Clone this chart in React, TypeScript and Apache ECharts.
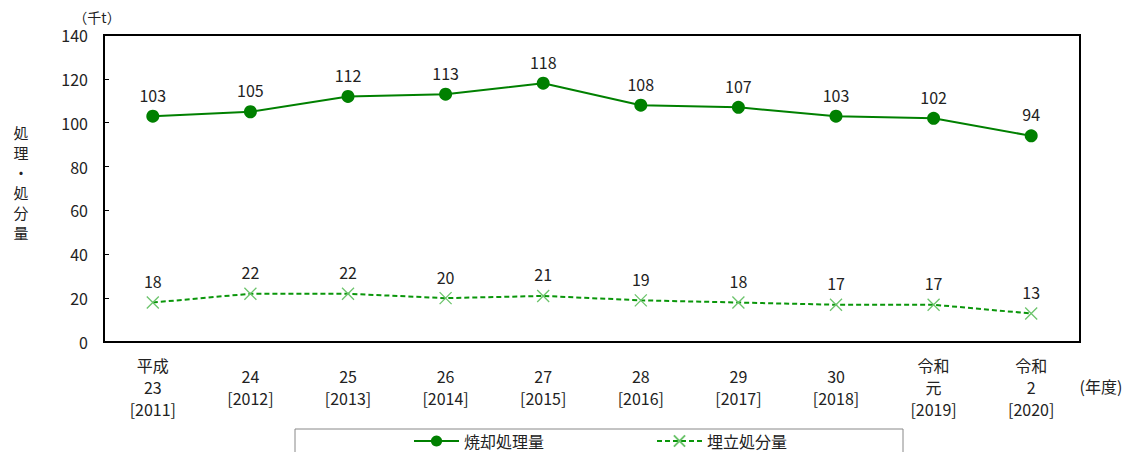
import React, { useEffect, useRef } from "react";
import * as echarts from "echarts";

const categories = [
  "平成\n23\n[2011]",
  "24\n[2012]",
  "25\n[2013]",
  "26\n[2014]",
  "27\n[2015]",
  "28\n[2016]",
  "29\n[2017]",
  "30\n[2018]",
  "令和\n元\n[2019]",
  "令和\n2\n[2020]",
];
const incineration = [103, 105, 112, 113, 118, 108, 107, 103, 102, 94];
const landfill = [18, 22, 22, 20, 21, 19, 18, 17, 17, 13];
const seriesNames = ["焼却処理量", "埋立処分量"];
const yTicks = { min: 0, max: 140, interval: 20 };

const FONT = "'Noto Sans CJK JP', 'Noto Sans', sans-serif";
const TEXT = "#222";

export default function App() {
  const ref = useRef<HTMLDivElement>(null);
  useEffect(() => {
    if (!ref.current) return;
    const chart = echarts.init(ref.current, undefined, { renderer: "svg" });
    chart.setOption({
      animation: false,
      textStyle: { fontFamily: FONT },
      grid: {
        left: 104,
        right: 45,
        top: 35,
        bottom: 110,
        show: true,
        borderColor: "#000",
        borderWidth: 2,
      },
      legend: {
        left: 408,
        top: 430,
        padding: [2, 5],
        itemWidth: 45,
        itemHeight: 14,
        itemGap: 112,
        textStyle: { fontSize: 16, lineHeight: 18, color: TEXT, fontFamily: FONT },
        data: seriesNames,
      },
      xAxis: {
        type: "category",
        data: categories,
        boundaryGap: true,
        axisLine: { lineStyle: { color: "#000", width: 2 } },
        axisTick: { inside: true, length: 5, lineStyle: { color: "#000", width: 1 } },
        axisLabel: {
          interval: 0,
          fontSize: 16,
          color: TEXT,
          lineHeight: 22,
          verticalAlign: "middle",
          margin: 45,
          fontFamily: FONT,
        },
      },
      yAxis: {
        type: "value",
        min: yTicks.min,
        max: yTicks.max,
        interval: yTicks.interval,
        splitLine: { show: false },
        axisLine: { show: true, lineStyle: { color: "#000", width: 2 } },
        axisTick: { show: true, inside: true, length: 5, lineStyle: { color: "#000", width: 1 } },
        axisLabel: { fontSize: 16, color: TEXT, margin: 16, fontFamily: FONT },
      },
      graphic: [
        {
          type: "text",
          x: 97,
          y: 17,
          style: {
            text: "（千t）",
            fontSize: 14,
            fill: TEXT,
            align: "center",
            verticalAlign: "middle",
            fontFamily: FONT,
          },
        },
        {
          type: "text",
          x: 21,
          y: 182,
          style: {
            text: "処\n理\n・\n処\n分\n量",
            fontSize: 15,
            lineHeight: 20,
            fill: TEXT,
            align: "center",
            verticalAlign: "middle",
            fontFamily: FONT,
          },
        },
        {
          type: "text",
          x: 1101,
          y: 386,
          style: {
            text: "(年度)",
            fontSize: 16,
            fill: TEXT,
            align: "center",
            verticalAlign: "middle",
            fontFamily: FONT,
          },
        },
        {
          type: "rect",
          shape: { x: 295, y: 429, width: 608, height: 40 },
          style: { fill: "none", stroke: "#888", lineWidth: 1 },
          z: -1,
        },
      ],
      series: [
        {
          name: seriesNames[0],
          type: "line",
          data: incineration,
          symbol: "circle",
          symbolSize: 13,
          lineStyle: { color: "#008000", width: 2 },
          itemStyle: { color: "#008000" },
          label: {
            show: true,
            position: "top",
            distance: 7,
            fontSize: 16,
            color: TEXT,
            fontFamily: FONT,
          },
        },
        {
          name: seriesNames[1],
          type: "line",
          data: landfill,
          symbol: "path://M0,0L10,10M10,0L0,10",
          symbolSize: 12,
          lineStyle: { color: "#0a960a", width: 2, type: [5, 3] },
          itemStyle: { color: "none", borderColor: "#6cc46c", borderWidth: 1.3 },
          label: {
            show: true,
            position: "top",
            distance: 5,
            fontSize: 16,
            color: TEXT,
            fontFamily: FONT,
          },
        },
      ],
    });
    return () => chart.dispose();
  }, []);
  return (
    <div
      ref={ref}
      style={{ position: "absolute", left: 0, top: 0, width: 1125, height: 452 }}
    />
  );
}
